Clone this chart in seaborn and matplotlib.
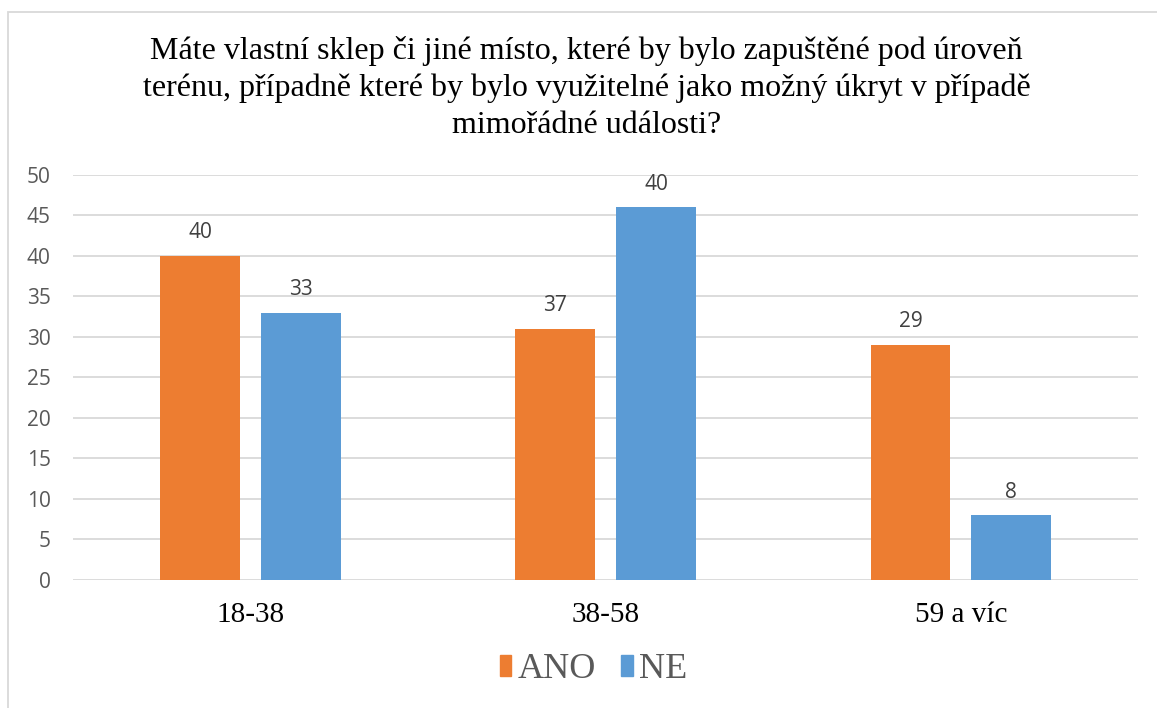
import matplotlib
matplotlib.use("Agg")
import matplotlib.pyplot as plt
import matplotlib.patches as mpatches
import pandas as pd
import seaborn as sb

# data (bar heights as drawn, labels as printed)
age_groups = ['18-38', '38-58', '59 a víc']
answers = ['ANO', 'NE']
ano_heights = [40, 31, 29]
ne_heights = [33, 46, 8]
ano_labels = ['40', '37', '29']
ne_labels = ['33', '40', '8']
y_ticks = [0, 5, 10, 15, 20, 25, 30, 35, 40, 45, 50]

title = ('Máte vlastní sklep či jiné místo, které by bylo zapuštěné pod úroveň\n'
         'terénu, případně které by bylo využitelné jako možný úkryt v případě\n'
         'mimořádné události?')

df = pd.DataFrame({
    'skupina': age_groups * 2,
    'odpoved': [answers[0]] * 3 + [answers[1]] * 3,
    'pocet': ano_heights + ne_heights,
})

sb.set_style('white')
plt.rcParams['font.family'] = ['Open Sans', 'DejaVu Sans']

fig = plt.figure(figsize=(11.57, 7.08), dpi=100)
ax = fig.add_axes([0.063, 0.181, 0.921, 0.572])

palette = {'ANO': '#ED7D31', 'NE': '#5B9BD5'}
sb.barplot(data=df, x='skupina', y='pocet', hue='odpoved', hue_order=answers,
           order=age_groups, palette=palette, width=0.568, gap=0.21,
           saturation=1, linewidth=0, ax=ax, legend=False)

ax.set_ylim(0, 50)
ax.set_xlim(-0.5, 2.5)
ax.set_yticks(y_ticks)
ax.yaxis.grid(True, color='#D9D9D9', linewidth=1.3)
ax.set_axisbelow(True)
for side in ['top', 'right', 'left', 'bottom']:
    ax.spines[side].set_visible(False)

ax.tick_params(axis='y', length=0, pad=16, labelsize=15, labelcolor='#595959')
ax.tick_params(axis='x', length=0, pad=16)
for lbl in ax.get_xticklabels():
    lbl.set_fontfamily('Liberation Serif')
    lbl.set_fontsize(21)
    lbl.set_color('black')
ax.set_xlabel('')
ax.set_ylabel('')

# bar labels
for container, labels in zip(ax.containers, [ano_labels, ne_labels]):
    ax.bar_label(container, labels=labels, padding=9, fontsize=15, color='#404040')

fig.text(0.507, 1 - 88 / 708, title, ha='center', va='center', fontsize=23,
         family='Liberation Serif', linespacing=1.36, color='black')

# legend
handles = [mpatches.Patch(color=palette[a], label=a) for a in answers]
fig.legend(handles=handles, loc='center', bbox_to_anchor=(0.513, 1 - 670 / 708), ncol=2,
           frameon=False, prop={'family': 'Liberation Serif', 'size': 26},
           labelcolor='#595959', handlelength=0.33, handleheight=0.5,
           handletextpad=0.17, columnspacing=0.7)

# chart area border
fig.patches.append(mpatches.Rectangle((8 / 1157, -0.05), 1.05, 1 - 12 / 708 + 0.05,
                                      transform=fig.transFigure, fill=False,
                                      edgecolor='#D9D9D9', linewidth=1.3))

fig.savefig('out.png', dpi=100)
